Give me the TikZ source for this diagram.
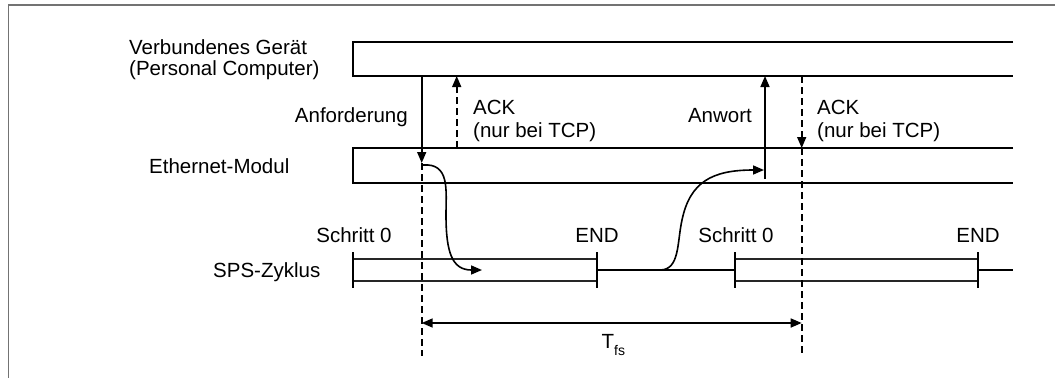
\documentclass[tikz,border=0pt]{standalone}
\usepackage{fontspec}
\setmainfont{Liberation Sans}
\usetikzlibrary{arrows.meta}
\begin{document}
\begin{tikzpicture}[x=1pt,y=-1pt,
  lbl/.style={inner sep=0pt,font=\fontsize{20.5}{23}\selectfont},
  ln/.style={line width=1.6pt},
  dsh/.style={line width=1.6pt,dash pattern=on 7pt off 4pt},
  tip/.style={-{Triangle[length=11pt,width=9pt]}},
  boxln/.style={line width=1.8pt,draw=black!85},
  frame/.style={line width=1.5pt,draw=black!55}]
\useasboundingbox (0,0) rectangle (1055,378);
% frame
\coordinate (fTL) at (8.5,5);
\coordinate (fTR) at (1055,5);
\coordinate (fBL) at (8.5,378);
\draw[frame] (fTR) -- (fTL) -- (fBL);
% bars
\coordinate (g1) at (1013,42); \coordinate (g2) at (353,42);
\coordinate (g3) at (353,76); \coordinate (g4) at (1013,76);
\draw[ln] (g1) -- (g2) -- (g3) -- (g4);
\coordinate (e1) at (1013,148); \coordinate (e2) at (353,148);
\coordinate (e3) at (353,183); \coordinate (e4) at (1013,183);
\draw[ln] (e1) -- (e2) -- (e3) -- (e4);
% labels
\node[lbl,anchor=base west] (vg1) at (129,54) {Verbundenes Gerät};
\node[lbl,anchor=base west] (vg2) at (129,75) {(Personal Computer)};
\node[lbl,anchor=base west] (em) at (149,173) {Ethernet-Modul};
\node[lbl,anchor=base west] (sps) at (213,277) {SPS-Zyklus};
\node[lbl,anchor=base east] (anf) at (408,122) {Anforderung};
\node[lbl,anchor=base east] (anw) at (752,122) {Anwort};
\node[lbl,anchor=base west] (ack1) at (473,114) {ACK};
\node[lbl,anchor=base west] (tcp1) at (473,137) {(nur bei TCP)};
\node[lbl,anchor=base west] (ack2) at (817,114) {ACK};
\node[lbl,anchor=base west] (tcp2) at (817,137) {(nur bei TCP)};
\node[lbl,anchor=base] (s0a) at (354,242) {Schritt 0};
\node[lbl,anchor=base] (enda) at (597,242) {END};
\node[lbl,anchor=base] (s0b) at (736,242) {Schritt 0};
\node[lbl,anchor=base] (endb) at (978,242) {END};
\node[lbl,anchor=base west] (tfs) at (601.5,348) {T\raisebox{-7pt}{\fontsize{14}{14}\selectfont fs}};
% SPS cycle
\coordinate (b1a) at (353,259); \coordinate (b1b) at (597,259);
\coordinate (b1c) at (353,281); \coordinate (b1d) at (597,281);
\coordinate (b2a) at (735,259); \coordinate (b2b) at (978,259);
\coordinate (b2c) at (735,281); \coordinate (b2d) at (978,281);
\draw[boxln] (b1a) -- (b1b); \draw[boxln] (b1c) -- (b1d);
\draw[boxln] (b2a) -- (b2b); \draw[boxln] (b2c) -- (b2d);
\coordinate (t1u) at (353,252); \coordinate (t1l) at (353,288);
\coordinate (t2u) at (597,252); \coordinate (t2l) at (597,288);
\coordinate (t3u) at (735,252); \coordinate (t3l) at (735,288);
\coordinate (t4u) at (978,252); \coordinate (t4l) at (978,288);
\draw[ln] (t1u) -- (t1l); \draw[ln] (t2u) -- (t2l);
\draw[ln] (t3u) -- (t3l); \draw[ln] (t4u) -- (t4l);
\coordinate (m1) at (597,270); \coordinate (m2) at (735,270);
\coordinate (m3) at (978,270); \coordinate (m4) at (1013,270);
\draw[ln] (m1) -- (m2); \draw[ln] (m3) -- (m4);
% messages
\coordinate (aTop) at (421.7,76); \coordinate (aTip) at (421.7,163);
\coordinate (aBot) at (421.7,356);
\draw[ln,tip] (aTop) -- (aTip);
\draw[dsh] (aTip) -- (aBot);
\coordinate (k1b) at (456.7,148); \coordinate (k1t) at (456.7,76);
\draw[dsh,tip] (k1b) -- (k1t);
\coordinate (wb) at (765,179); \coordinate (wt) at (765,76);
\draw[ln,tip] (wb) -- (wt);
\coordinate (k2t) at (801.7,76); \coordinate (k2tip) at (801.7,148);
\coordinate (k2b) at (801.7,356);
\draw[dsh,tip] (k2t) -- (k2tip);
\draw[dsh] (k2tip) -- (k2b);
% curves
\coordinate (c1s) at (423,165); \coordinate (c1e) at (482,270);
\draw[ln,tip] (c1s) .. controls (450,163) and (446,190) .. (446,215)
  .. controls (446,252) and (452,270) .. (c1e);
\coordinate (c2s) at (660,270); \coordinate (c2e) at (764,170);
\draw[ln,tip] (c2s) .. controls (680,270) and (677,242) .. (682,220)
  .. controls (690,182) and (712,170) .. (c2e);
% Tfs
\coordinate (ta) at (421.7,323); \coordinate (tb) at (801.7,323);
\draw[ln,{Triangle[length=11pt,width=9pt]}-{Triangle[length=11pt,width=9pt]}] (ta) -- (tb);
\end{tikzpicture}
\end{document}
